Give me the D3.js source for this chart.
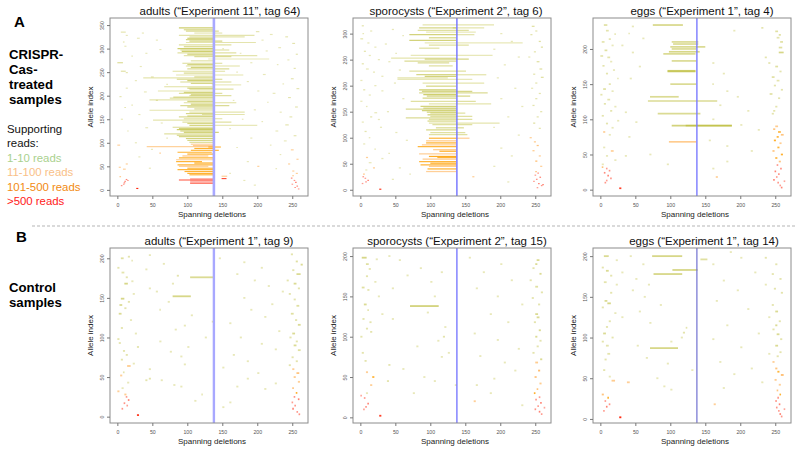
<!DOCTYPE html>
<html><head><meta charset="utf-8">
<script src="https://cdn.jsdelivr.net/npm/d3@7"></script>
<style>body{margin:0;background:#fff}text{font-family:"Liberation Sans",Arial,sans-serif}</style>
</head><body><svg id="c" width="798" height="455"></svg>
<script>
// ---------------- data ----------------
const xTicks = [0, 50, 100, 150, 200, 250];
const yTicksA1 = [0, 50, 100, 150, 200, 250, 300, 350];
const yTicksA2 = [0, 50, 100, 150, 200, 250, 300];
const yTicksA3 = [0, 50, 100, 150, 200];
const yTicksB = [0, 50, 100, 150, 200];
const cutSite = 138;
const titles = ["adults (\u201cExperiment 11\u201d, tag 64)", "sporocysts (\u201cExperiment 2\u201d, tag 6)", "eggs (\u201cExperiment 1\u201d, tag 4)",
  "adults (\u201cExperiment 1\u201d, tag 9)", "sporocysts (\u201cExperiment 2\u201d, tag 15)", "eggs (\u201cExperiment 1\u201d, tag 14)"];
const legendLabels = ["1-10 reads", "11-100 reads", "101-500 reads", ">500 reads"];

// each row: [allele index, deletion start, deletion end, supporting reads]
const segA1 = [
[344,88,138,8],[340,95,138,6],[337,98,145,5],[333,110,150,3],[328,88,196,3],[325,103,182,3],[322,100,138,8],[319,98,138,7],[316,103,150,6],[313,98,198,3],[308,88,163,4],[304,95,138,6],[300,86,138,8],[297,90,160,5],[294,92,138,8],[291,86,170,4],[288,100,138,7],[285,95,200,3],[283,110,163,4],[278,130,217,2],[274,105,138,4],[269,93,150,5],[266,100,138,7],[263,98,175,4],[260,105,138,7],[257,100,160,5],[252,79,154,4],[248,95,138,6],[244,84,180,3],[240,110,138,5],[238,37,138,3],[235,85,150,6],[232,100,138,8],[229,90,163,5],[226,105,138,6],[223,135,177,2],[219,67,138,4],[216,100,138,7],[214,103,166,4],[210,58,138,3],[207,95,138,6],[205,88,150,4],[202,105,138,7],[200,103,163,4],[197,80,138,5],[195,75,138,4],[191,46,138,3],[188,100,138,7],[185,95,170,4],[182,105,138,8],[179,90,160,5],[176,100,138,7],[172,110,138,5],[169,46,138,3],[165,103,182,3],[162,98,138,6],[160,121,182,3],[157,100,138,6],[155,88,138,5],[151,95,150,4],[148,51,138,3],[144,93,163,4],[141,100,138,6],[137,103,138,7],[137,138,200,2],[133,79,138,5],[130,88,138,7],[128,85,138,8],[125,90,138,8],[122,95,145,7],[119,67,138,4],[116,85,138,7],[113,88,138,6],[109,98,138,7],[105,100,138,6],[101,103,138,5],
[97,105,138,30],[94,108,138,40],[92,42,138,25],[91,130,148,150],[88,110,138,200],[84,105,145,180],[80,86,135,200],[76,100,138,250],[72,93,130,60],[68,88,138,200],[64,84,138,40],[60,84,121,200],[57,110,138,300],[53,86,138,150],[50,88,130,30],[46,100,138,200],[43,86,138,150],[39,96,138,180],[35,100,138,200],[32,103,138,180],[29,149,157,40],[24,149,156,1800],
[24,104,138,600],[21,104,138,600],[18,104,138,600],[15,104,138,600],[21,88,138,1800],[14,104,138,1300],
[335,5,12,3],[333,35,38,2],[328,12,15,2],[322,28,32,2],[318,55,58,2],[314,8,10,3],[305,10,13,2],[298,60,63,2],[290,40,43,2],[284,20,22,2],[270,0,8,5],[262,32,35,2],[252,5,12,4],[249,12,15,3],[240,48,52,2],[232,25,28,2],[224,70,72,2],[216,12,15,2],[208,38,42,2],[198,3,6,3],[190,55,58,2],[180,20,22,2],[175,10,12,3],[160,30,33,2],[150,5,8,2],[142,62,65,2],[132,40,44,2],[125,14,16,2],[110,70,72,2],[100,25,28,2],[95,0,4,30],[86,48,51,2],[78,60,62,30],[70,30,33,2],[55,12,15,30],[48,2,5,30],[46,45,48,2],
[336,198,203,3],[330,218,222,2],[325,240,244,3],[318,206,209,2],[311,250,254,3],[302,230,234,2],[295,212,215,2],[288,255,258,3],[276,243,246,2],[266,228,230,2],[258,252,255,3],[245,208,212,2],[236,248,252,3],[225,236,238,2],[215,256,260,3],[205,222,226,2],[196,244,248,3],[186,214,216,2],[176,254,258,3],[165,232,235,2],[155,246,250,3],[145,206,208,2],[138,240,245,3],[125,226,230,2],[115,252,256,3],[104,238,242,2],[95,218,220,2],[85,248,252,30],[75,232,234,2],[65,256,259,30],[55,244,247,30],[45,226,228,2],[40,250,253,30],
[35,255,258,30],[30,250,252,60],[25,248,250,1200],[20,252,254,1000],[16,254,256,1200],[12,249,251,900],[8,256,258,1200],[5,253,255,1000],[2,258,260,900],
[28,3,5,50],[22,12,14,1200],[18,10,12,1000],[15,9,11,1200],[12,8,10,900],[9,5,7,1100],[20,14,15,900],[3,27,30,2500],[44,8,12,30],
[300,150,152,2],[290,175,177,2],[270,190,193,2],[250,170,172,2],[230,185,188,2],[210,200,203,2],[190,165,167,2],[170,195,198,2],[150,178,180,2],[130,160,162,2],[110,190,193,2],[90,170,172,2],[60,185,188,2],[50,200,203,30],[35,160,162,2],[20,180,183,2],[10,195,198,2]
];

const segA2 = [
[317,89,191,3],[311,84,137,6],[311,132,177,3],[306,82,155,4],[303,94,165,2],[298,70,137,7],[298,137,163,3],[292,98,137,6],[287,70,137,7],[282,92,232,2],[278,98,155,4],[272,84,113,4],[258,72,189,2],[253,44,137,3],[251,92,155,6],[247,63,137,5],[244,82,127,5],[238,98,132,4],[228,70,151,4],[221,80,137,6],[221,137,180,3],[218,92,137,7],[215,53,125,3],[212,53,160,2],[205,89,177,3],[199,94,137,6],[192,84,137,8],[189,88,160,6],[186,84,182,5],[183,90,137,8],[180,95,157,6],[176,89,137,6],[170,72,165,4],[165,98,187,3],[160,86,137,7],[157,90,137,6],[155,65,137,5],[152,88,137,7],[149,95,137,6],[147,100,150,4],[144,96,137,7],[141,100,160,4],[138,65,137,5],[135,98,160,4],[132,96,137,6],[128,98,199,3],[125,103,160,4],[119,108,148,5],[115,94,137,6],[110,100,150,4],[106,98,153,4],
[99,98,137,150],[99,137,156,30],[94,94,137,40],[90,94,137,200],[86,88,137,30],[83,82,137,150],[77,104,137,40],[74,113,137,200],[69,84,137,30],[64,98,137,250],[62,110,137,150],[59,89,137,40],[54,84,137,150],[51,100,137,200],[48,86,137,150],[45,98,137,40],[40,96,137,180],[35,94,137,30],
[315,2,5,3],[305,14,17,2],[300,3,5,2],[290,0,4,3],[282,10,13,2],[274,20,23,2],[266,5,8,3],[258,12,15,2],[250,25,28,2],[242,2,5,3],[232,8,12,2],[226,18,21,2],[218,30,33,2],[210,0,3,2],[200,20,23,2],[192,4,7,3],[182,12,15,2],[170,0,3,2],[160,8,10,2],[148,20,24,2],[140,14,17,3],[130,2,5,2],[120,28,31,2],[112,6,9,3],[100,12,14,2],[88,4,7,2],[78,20,22,2],[62,8,11,30],[52,12,16,2],[42,18,21,30],[38,7,10,2],
[308,45,48,2],[296,60,62,2],[280,35,38,2],[262,50,52,2],[246,40,43,2],[230,55,58,2],[205,48,51,2],[190,30,33,2],[175,60,63,2],[150,38,41,2],[135,25,28,2],[110,50,53,2],[95,65,68,2],[70,40,42,2],[60,30,33,2],[42,55,58,2],[30,70,72,2],[20,45,48,2],[300,200,203,2],[285,215,218,2],[270,190,193,2],[255,225,228,2],[240,205,208,2],[215,195,198,2],[195,220,223,2],[175,200,203,2],[160,230,233,2],[140,210,213,2],[120,190,192,2],[105,225,228,2],[80,200,203,2],[65,215,218,2],[45,190,193,2],[25,160,163,30],[15,210,213,2],
[314,245,249,4],[305,250,253,3],[298,243,246,3],[285,255,258,4],[274,258,261,4],[265,248,251,3],[255,240,243,2],[246,252,256,4],[232,256,260,4],[222,247,250,3],[216,258,262,4],[205,250,253,3],[195,244,247,2],[185,255,258,3],[175,250,253,3],[162,246,249,3],[150,257,260,3],[140,252,255,3],[128,247,250,4],[118,255,258,3],[100,242,245,30],[92,248,251,40],[85,252,255,60],[75,246,249,40],[65,255,258,30],[55,250,253,80],[45,257,260,30],
[25,3,5,1000],[22,6,8,900],[18,10,12,1200],[15,7,9,1000],[12,2,4,900],[30,4,6,60],[1,27,30,2000],
[35,250,252,60],[32,253,255,1000],[28,249,251,900],[24,256,258,1200],[20,251,253,1000],[16,247,249,900],[12,254,256,1200],[8,258,260,1000],[4,252,254,900],[10,260,262,1200]
];

const segA3 = [
[234,75,118,6],[210,102,140,5],[207,104,140,5],[203,100,150,5],[200,102,137,5],[196,98,142,6],[193,90,136,5],[183,102,137,5],[169,96,136,7],[168,96,136,7],[150,100,137,5],[132,71,112,5],[126,68,167,5],[108,82,143,5],[91,102,188,7],[91,122,188,5],[68,98,137,40],
[234,5,10,4],[226,8,12,3],[221,20,22,2],[214,12,15,3],[210,2,6,3],[205,16,19,2],[198,6,10,4],[190,0,4,3],[188,10,14,3],[182,14,17,2],[176,3,6,3],[170,18,21,2],[165,8,11,3],[158,24,26,2],[150,12,15,3],[143,4,8,4],[140,16,19,2],[135,0,3,3],[128,10,14,3],[122,5,8,3],[118,20,23,2],[112,14,17,3],[105,2,5,3],[98,24,27,2],[94,8,11,3],[88,16,19,2],[82,4,7,30],[78,12,15,2],[60,4,7,2],[55,15,19,30],[48,8,11,2],[42,20,23,2],[36,2,5,2],
[32,2,4,60],[30,8,10,900],[27,12,14,1000],[24,5,7,1100],[20,10,12,1200],[16,14,16,1000],[13,8,10,900],[10,6,8,1000],[2,27,30,2000],
[232,45,48,2],[226,190,193,2],[222,40,42,2],[215,60,63,2],[205,30,33,2],[195,45,48,2],[180,160,163,2],[175,55,58,2],[165,175,178,2],[158,42,45,2],[150,160,162,2],[140,180,183,2],[132,195,198,2],[120,170,173,2],[112,210,213,2],[100,160,163,2],[92,200,203,2],[85,225,228,2],[75,40,43,2],[62,180,183,2],[50,70,73,2],[48,35,38,2],[40,180,183,2],[36,95,98,2],[30,160,163,2],[18,165,168,30],[110,35,38,2],[96,50,53,2],[70,155,158,2],[55,215,218,2],
[230,230,233,3],[225,250,254,4],[220,255,258,4],[216,252,256,3],[210,257,261,4],[202,255,260,4],[195,255,262,6],[188,235,238,3],[180,240,243,3],[175,250,254,4],[168,256,259,3],[160,245,249,4],[155,252,256,3],[148,248,251,3],[142,258,261,3],[136,242,246,4],[130,254,257,3],[118,250,253,3],[112,247,250,3],[108,245,248,3],
[90,250,254,40],[86,247,250,60],[82,254,258,150],[78,258,262,60],[75,252,255,150],[70,248,251,200],[66,256,259,40],[60,253,256,150],[55,246,249,60],[50,258,261,200],[45,250,253,150],[40,255,258,60],[35,252,254,1000],[30,257,259,1100],[26,249,251,1200],[22,254,256,1000],[18,251,253,900],[14,247,249,1200],[10,253,255,1000],[6,256,258,900],[3,258,260,1200],[12,262,264,800]
];

const segB1 = [
[176,104,138,5],[152,79,105,6],
[202,15,18,3],[200,5,9,4],[197,20,22,2],[188,0,3,3],[182,6,10,3],[176,12,15,3],[171,20,23,2],[168,10,15,6],[155,22,25,2],[149,5,10,6],[145,15,18,3],[141,3,7,5],[137,10,13,3],[130,2,6,5],[122,18,21,2],[112,5,8,3],[105,25,28,2],[98,0,3,3],[93,2,5,3],[88,28,31,3],[83,8,11,3],[78,12,15,3],[72,5,8,3],[67,22,25,2],[64,14,19,40],[56,8,10,3],[52,4,7,30],[46,40,43,3],[43,14,17,2],[36,6,9,2],[32,0,3,30],[28,10,13,40],
[25,12,14,900],[21,15,17,1200],[17,9,11,1000],[14,13,15,900],[10,6,8,1000],[2,28,31,2000],
[204,45,48,2],[193,65,68,2],[186,40,43,2],[178,85,88,3],[168,78,81,2],[162,45,48,2],[158,55,58,2],[145,72,75,2],[135,60,62,2],[128,105,108,2],[120,135,137,3],[115,95,98,2],[110,82,85,2],[100,125,128,2],[95,60,63,2],[88,100,103,2],[82,75,78,2],[76,90,93,2],[66,95,98,2],[60,45,48,2],[48,45,48,3],[46,62,65,2],[40,80,83,2],[38,90,93,2],[28,120,122,2],[20,110,113,2],[18,160,163,2],[12,150,153,2],[200,145,148,2],[195,180,183,2],[188,205,208,2],[180,170,173,2],[172,195,198,2],[165,215,218,2],[158,235,238,2],[150,180,183,2],[142,220,223,2],[135,190,193,2],[126,210,213,2],[118,160,163,2],[108,230,233,2],[100,175,178,2],[92,205,208,2],[85,225,228,2],[78,165,168,2],[70,185,188,2],[62,150,153,2],[55,200,203,2],[48,185,188,2],[42,225,228,2],[38,170,173,2],[35,210,213,2],
[205,248,251,3],[196,255,258,4],[192,262,265,5],[185,250,253,3],[180,256,262,5],[172,242,245,3],[168,252,256,5],[162,258,261,3],[155,245,248,3],[148,252,255,3],[140,256,260,4],[130,248,252,4],[122,254,257,3],[116,258,262,5],[105,250,254,5],[100,246,249,3],[95,255,258,3],[90,252,256,5],[84,258,262,4],[75,249,252,3],[70,255,258,3],[65,245,248,3],[60,250,253,30],[55,256,260,60],[50,252,255,40],[44,258,261,30],
[36,250,252,60],[30,255,257,200],[25,252,254,1000],[22,258,260,1200],[18,249,251,900],[14,253,255,1000],[10,250,252,1200],[6,256,258,900],[3,259,261,1000]
];

const segB2 = [
[138,71,112,7],
[198,2,9,6],[196,22,25,2],[190,8,12,4],[184,12,15,3],[175,8,11,3],[168,20,23,2],[161,2,6,4],[158,10,13,3],[150,25,28,2],[140,5,9,5],[133,10,12,3],[128,30,33,2],[122,3,6,3],[118,13,16,3],[110,8,11,3],[106,14,17,3],[100,0,3,3],[80,2,5,3],[70,6,9,3],[56,8,11,30],[50,17,20,150],[45,38,41,3],[40,14,17,30],[30,8,11,2],
[27,0,2,800],[24,5,7,900],[17,10,12,1200],[13,7,9,1000],[10,4,6,900],[2,27,30,2000],
[200,40,43,2],[195,55,58,2],[185,85,88,2],[180,115,118,2],[176,66,69,2],[168,100,103,2],[160,45,48,2],[150,105,108,2],[130,95,98,2],[122,45,48,2],[112,120,123,2],[100,118,121,3],[95,110,113,2],[88,80,83,2],[80,125,128,2],[75,115,118,2],[65,40,43,3],[60,60,63,2],[50,90,93,2],[45,105,108,2],[40,135,138,2],[30,75,78,2],[198,155,158,2],[190,200,203,2],[180,175,178,2],[170,215,218,2],[160,165,168,2],[150,195,198,2],[140,230,233,2],[128,185,188,2],[118,210,213,2],[104,162,165,2],[96,195,198,2],[85,225,228,2],[76,170,173,2],[68,205,208,2],[58,220,223,2],[48,190,193,2],[40,165,168,2],[30,185,188,2],[20,162,165,30],[15,230,233,2],
[195,252,256,5],[190,250,253,5],[185,246,249,3],[178,256,259,5],[170,242,245,3],[162,250,254,4],[155,258,261,3],[148,245,248,3],[140,254,257,3],[128,250,254,5],[124,252,256,5],[118,248,251,3],[108,255,258,5],[100,250,253,5],[95,256,259,3],[88,252,255,3],[80,246,249,3],[72,257,260,5],[68,250,254,40],[58,254,257,80],[50,249,252,60],[42,256,259,40],
[35,252,254,60],[30,248,250,200],[25,255,257,900],[22,250,252,1000],[18,257,259,1200],[14,253,255,900],[10,249,251,1000],[7,255,257,1200],[4,258,260,900],[12,262,264,800]
];

const segB3 = [
[200,74,117,6],[196,143,153,4],[183,103,139,6],[178,76,117,6],[87,71,111,6],
[200,5,12,5],[195,22,25,2],[186,2,5,3],[182,8,12,5],[176,14,17,3],[168,5,9,3],[165,22,25,2],[155,14,17,3],[145,6,10,5],[142,10,15,6],[137,2,5,3],[130,20,23,2],[120,12,15,3],[113,8,11,3],[105,4,8,5],[100,16,19,3],[95,2,5,3],[90,8,12,3],[80,10,14,3],[73,6,9,3],[60,4,7,3],[52,12,15,2],[47,16,21,40],[45,38,42,30],
[30,2,5,60],[26,10,12,200],[22,6,8,900],[18,12,14,1000],[15,8,10,1200],[10,4,6,900],[2,27,30,2500],
[200,42,45,2],[190,60,63,2],[180,30,33,2],[172,50,53,2],[165,68,71,2],[158,45,48,2],[150,62,65,2],[140,85,88,2],[132,55,58,2],[125,30,33,2],[118,70,73,2],[112,122,124,3],[106,118,121,3],[100,115,118,2],[95,100,103,2],[90,52,55,2],[75,65,68,2],[68,95,98,2],[60,130,133,2],[50,80,83,2],[40,90,93,2],[36,100,103,2],[205,185,188,2],[198,200,203,2],[190,160,163,2],[180,220,223,2],[170,175,178,2],[165,235,238,2],[158,195,198,2],[145,165,168,2],[135,210,213,2],[125,240,243,2],[115,180,183,2],[105,225,228,2],[98,160,163,2],[88,200,203,2],[80,240,243,2],[70,170,173,2],[62,215,218,2],[55,190,193,2],[45,230,233,2],[38,175,178,2],[18,162,165,30],
[198,235,238,3],[190,250,253,3],[178,245,248,3],[172,256,259,3],[160,248,251,3],[155,258,261,3],[140,245,248,3],[132,250,254,5],[120,255,258,3],[115,250,253,5],[110,246,249,3],[104,252,256,5],[98,257,260,3],[90,250,254,5],[82,256,259,3],[77,252,255,3],[70,246,249,30],[62,250,253,60],[58,253,256,150],[54,258,262,80],[48,249,252,40],[42,255,258,30],
[35,252,254,60],[30,256,258,200],[26,253,255,1000],[22,250,252,900],[18,255,257,1200],[14,251,253,1000],[10,254,256,900],[6,256,258,1200],[3,258,260,1000],[12,262,264,800]
];

// ---------------- drawing ----------------
const svg = d3.select("#c");
const xDomain = [-10.5, 272.5];

function segStyle(r) {
  if (r <= 10) return ["#b4b41e", 0.2 + 0.055 * r];
  if (r <= 100) return ["#ffa030", 0.38 + 0.004 * r];
  if (r <= 500) return ["#ffa000", Math.min(1, 0.62 + 0.001 * r)];
  return ["#ff2a10", Math.min(1, 0.1 + 0.0004 * r)];
}

const panels = [
  {seg: segA1, ticks: yTicksA1, yDom: [-13, 365], box: [110, 308, 18, 196], tx: 220, title: titles[0], cw: 2.6, cc: "#a8a8ff"},
  {seg: segA2, ticks: yTicksA2, yDom: [-12, 330], box: [353, 551, 18, 196], tx: 456, title: titles[1], cw: 1.4, cc: "#7070ff"},
  {seg: segA3, ticks: yTicksA3, yDom: [-9, 244], box: [593, 791, 18, 196], tx: 702, title: titles[2], cw: 1.4, cc: "#7a7aff"},
  {seg: segB1, ticks: yTicksB, yDom: [-8, 213], box: [110, 308, 248, 423], tx: 219, title: titles[3], cw: 2.4, cc: "#a8a8ff"},
  {seg: segB2, ticks: yTicksB, yDom: [-7, 210], box: [353, 551, 248, 423], tx: 457, title: titles[4], cw: 1.4, cc: "#7a7aff"},
  {seg: segB3, ticks: yTicksB, yDom: [-5, 210], box: [593, 791, 248, 423], tx: 704, title: titles[5], cw: 1.2, cc: "#7070d0"}
];

panels.forEach(p => {
  const [l, r, t, b] = p.box;
  const x = d3.scaleLinear().domain(xDomain).range([l, r]);
  const y = d3.scaleLinear().domain(p.yDom).range([b, t]);
  const unit = Math.abs(y(1) - y(0));
  const sw = Math.max(1.15, Math.min(1.8, unit * 2.4));
  const g = svg.append("g");
  const data = p.seg.slice().sort((a, c) => a[3] - c[3]);
  g.selectAll("line.seg").data(data).join("line").attr("class", "seg")
    .attr("x1", d => x(d[1]))
    .attr("x2", d => Math.max(x(d[2]), x(d[1]) + 1.6))
    .attr("y1", d => y(d[0])).attr("y2", d => y(d[0]))
    .attr("stroke", d => segStyle(d[3])[0])
    .attr("stroke-opacity", d => segStyle(d[3])[1])
    .attr("stroke-width", sw);
  g.append("line").attr("x1", x(cutSite)).attr("x2", x(cutSite)).attr("y1", t).attr("y2", b)
    .attr("stroke", p.cc).attr("stroke-width", p.cw);
  g.append("rect").attr("x", l).attr("y", t).attr("width", r - l).attr("height", b - t)
    .attr("fill", "none").attr("stroke", "#8c8c8c").attr("stroke-width", 1);

  const xa = g.append("g").attr("transform", `translate(0,${b})`)
    .call(d3.axisBottom(x).tickValues(xTicks).tickSize(3).tickPadding(2));
  xa.select(".domain").remove();
  xa.selectAll("line").attr("stroke", "#777");
  xa.selectAll("text").attr("font-size", 5.2).attr("fill", "#555").attr("font-family", "Liberation Sans, Arial")
    .attr("y", 11).attr("dy", null);

  const ya = g.append("g").attr("transform", `translate(${l},0)`)
    .call(d3.axisLeft(y).tickValues(p.ticks).tickSize(3));
  ya.select(".domain").remove();
  ya.selectAll("line").attr("stroke", "#777");
  ya.selectAll("text").attr("font-size", 5.2).attr("fill", "#555").attr("font-family", "Liberation Sans, Arial")
    .attr("x", 0).attr("dy", null).attr("y", -6).attr("transform", "rotate(-90)").attr("text-anchor", "middle");

  g.append("text").attr("x", p.tx).attr("y", t - 3).attr("text-anchor", "middle")
    .attr("font-size", 11.5).attr("fill", "#111").text(p.title);
  g.append("text").attr("x", (l + r) / 2 + 3).attr("y", b + 21).attr("text-anchor", "middle")
    .attr("font-size", 8).attr("fill", "#222").text("Spanning deletions");
  g.append("text").attr("transform", `translate(${l - 17.5},${(t + b) / 2}) rotate(-90)`)
    .attr("text-anchor", "middle").attr("font-size", 8).attr("fill", "#222").text("Allele index");
});

// separator
svg.append("line").attr("x1", 32).attr("x2", 796).attr("y1", 226).attr("y2", 226)
  .attr("stroke", "#b5b5b5").attr("stroke-width", 1).attr("stroke-dasharray", "3,2");

// left labels
svg.append("text").attr("x", 14).attr("y", 27).attr("font-size", 15).attr("font-weight", "bold").text("A");
svg.append("text").attr("x", 16).attr("y", 242).attr("font-size", 15).attr("font-weight", "bold").text("B");
["CRISPR-", "Cas-", "treated", "samples"].forEach((s, i) =>
  svg.append("text").attr("x", 9).attr("y", 59 + i * 15).attr("font-size", 13.2).attr("font-weight", "bold").text(s));
["Control", "samples"].forEach((s, i) =>
  svg.append("text").attr("x", 9).attr("y", 292 + i * 15).attr("font-size", 13.2).attr("font-weight", "bold").text(s));
["Supporting", "reads:"].forEach((s, i) =>
  svg.append("text").attr("x", 7).attr("y", 133 + i * 14.4).attr("font-size", 11.4).attr("fill", "#111").text(s));
const legendColors = ["#a9d18e", "#f9bf88", "#f28a10", "#ff2020"];
legendLabels.forEach((s, i) =>
  svg.append("text").attr("x", 7).attr("y", 162 + i * 14.4).attr("font-size", 11.4).attr("fill", legendColors[i]).text(s));
</script></body></html>
